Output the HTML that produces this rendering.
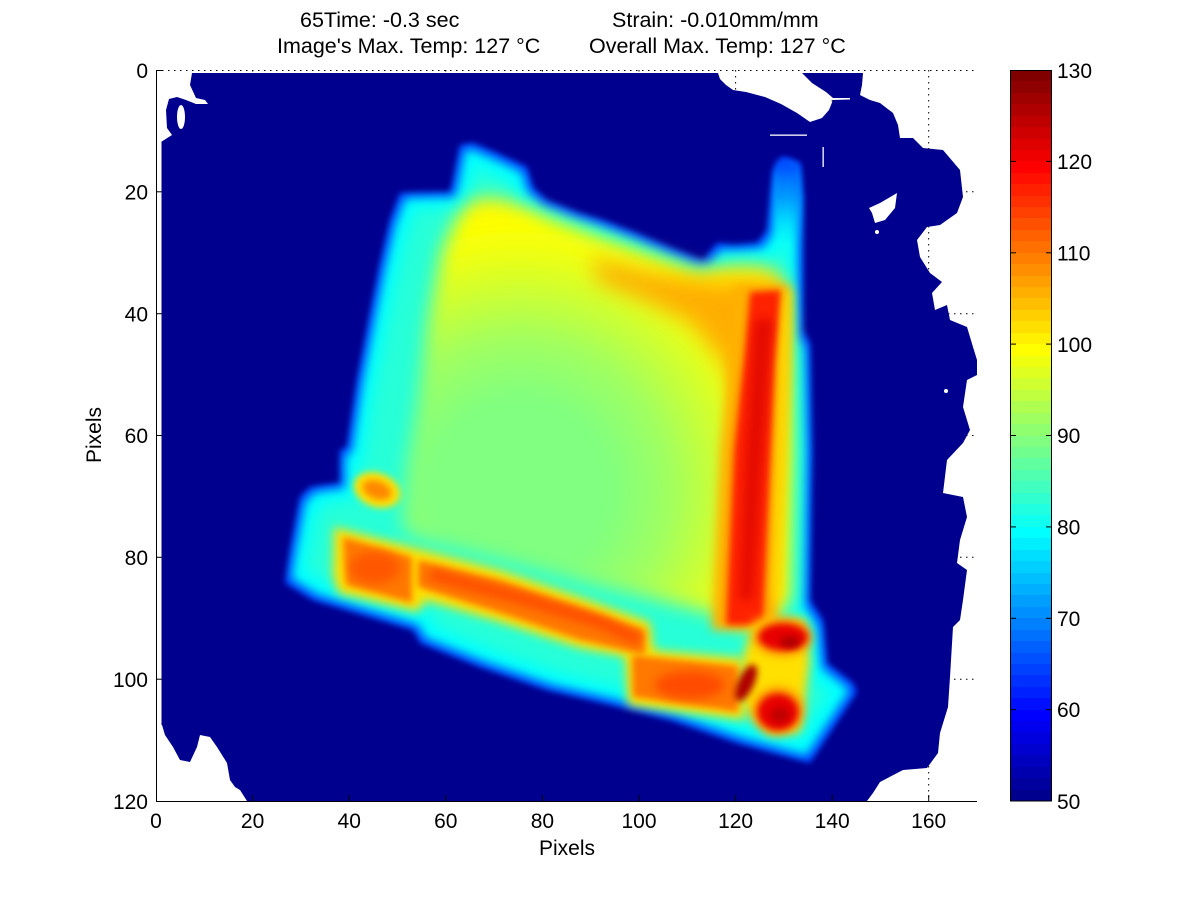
<!DOCTYPE html>
<html><head><meta charset="utf-8"><style>
html,body{margin:0;padding:0;background:#fff;}
svg{display:block;}
text{font-family:"Liberation Sans",Arial,sans-serif;fill:#000;}
</style></head><body>
<svg width="1200" height="900" viewBox="0 0 1200 900" xmlns="http://www.w3.org/2000/svg">
<defs>
 <filter id="b1" x="-50%" y="-50%" width="200%" height="200%"><feGaussianBlur stdDeviation="3"/></filter>
 <filter id="b2" x="-50%" y="-50%" width="200%" height="200%"><feMorphology operator="erode" radius="5"/><feGaussianBlur stdDeviation="5"/></filter>
 <filter id="b2b" x="-50%" y="-50%" width="200%" height="200%"><feMorphology operator="erode" radius="16"/><feGaussianBlur stdDeviation="7"/></filter>
 <filter id="b3" x="-50%" y="-50%" width="200%" height="200%"><feGaussianBlur stdDeviation="9"/></filter>
 <filter id="b6" x="-50%" y="-50%" width="200%" height="200%"><feGaussianBlur stdDeviation="11"/></filter>
 <filter id="b4" x="-50%" y="-50%" width="200%" height="200%"><feGaussianBlur stdDeviation="5"/></filter>
 <filter id="b5" x="-50%" y="-50%" width="200%" height="200%"><feGaussianBlur stdDeviation="3.5"/></filter>
 <radialGradient id="gIn" gradientUnits="userSpaceOnUse" cx="520" cy="490" r="300">
  <stop offset="0" stop-color="#80FF80"/>
  <stop offset="0.3" stop-color="#80FF80"/>
  <stop offset="0.5" stop-color="#A0FF60"/>
  <stop offset="0.66" stop-color="#CCFF33"/>
  <stop offset="0.8" stop-color="#F0FF10"/>
  <stop offset="0.9" stop-color="#FFFF00"/>
  <stop offset="1" stop-color="#FFF000"/>
 </radialGradient>
 <linearGradient id="gSpike" x1="0" y1="0" x2="0" y2="1">
  <stop offset="0" stop-color="#0040FF" stop-opacity="1"/>
  <stop offset="0.5" stop-color="#0090FF" stop-opacity="0.8"/>
  <stop offset="1" stop-color="#00D0FF" stop-opacity="0"/>
 </linearGradient>
 <mask id="nan" maskUnits="userSpaceOnUse" x="0" y="0" width="1200" height="900">
  <rect x="0" y="0" width="1200" height="900" fill="#fff"/>
  <path fill="#000" d="M161,73 L192,73 L190,85 L196,98 L205,100 L208,104 L196,104 L186,100 L177,97 L169,99 L166,110 L167,128 L172,135 L161,142 Z
  M718,73 L802,73 L812,83 L826,92 L833,98 L850,98 L850,99.5 L833,100 L829,110 L822,118 L810,122 L797,113 L781,104 L765,97 L746,92 L733,90 L726,85 L720,79 Z
  M863,73 L862,85 L860,95 L870,100 L880,103 L893,113 L898,125 L900,138 L913,138 L923,148 L943,150 L960,170 L963,197 L957,213 L940,225 L927,227 L917,240 L920,257 L930,273 L942,282 L932,293 L935,310 L947,305 L950,320 L967,327 L973,347 L977,360 L977,375 L967,380 L963,407 L970,430 L963,443 L947,460 L943,493 L963,497 L967,517 L960,540 L957,563 L967,570 L963,600 L960,620 L953,627 L950,677 L948,707 L940,733 L938,753 L927,768 L903,770 L880,782 L873,793 L867,801 L980,801 L980,73 Z
  M161,725 L162,725 L165,735 L173,747 L180,760 L190,762 L197,747 L200,735 L210,737 L217,747 L227,763 L230,780 L235,787 L240,790 L247,801 L161,801 Z
  M897,193 L895,208 L885,220 L875,223 L872,213 L869,208 L880,203 Z"/>
  <ellipse cx="181" cy="117" rx="4" ry="12" fill="#000"/>
  <circle cx="877" cy="232" r="2" fill="#000"/>
  <circle cx="946" cy="391" r="2" fill="#000"/>
  <rect x="770" y="134.5" width="37" height="1.3" fill="#000"/>
  <rect x="822.5" y="147" width="1.3" height="20" fill="#000"/>
 </mask>
</defs>

<!-- grid (dotted) -->
<g stroke="#000" stroke-width="1" stroke-dasharray="1.5,4.5" fill="none">
 <line x1="156" y1="70.5" x2="977" y2="70.5"/>
 <line x1="156" y1="191.8" x2="977" y2="191.8"/>
 <line x1="156" y1="313.7" x2="977" y2="313.7"/>
 <line x1="156" y1="435.5" x2="977" y2="435.5"/>
 <line x1="156" y1="557.3" x2="977" y2="557.3"/>
 <line x1="156" y1="679.2" x2="977" y2="679.2"/>
 <line x1="252.6" y1="70" x2="252.6" y2="801"/>
 <line x1="349.2" y1="70" x2="349.2" y2="801"/>
 <line x1="445.8" y1="70" x2="445.8" y2="801"/>
 <line x1="542.4" y1="70" x2="542.4" y2="801"/>
 <line x1="639" y1="70" x2="639" y2="801"/>
 <line x1="735.6" y1="70" x2="735.6" y2="801"/>
 <line x1="832.2" y1="70" x2="832.2" y2="801"/>
 <line x1="928.7" y1="70" x2="928.7" y2="801"/>
</g>

<!-- image -->
<g mask="url(#nan)">
 <rect x="161.5" y="73" width="815.5" height="728" fill="#00008F"/>
 <g>
  <polygon filter="url(#b1)" fill="#0040FF" points="400,193 450,192 453,180 460,145 473,143 497,153 527,167 533,187 547,200 580,213 603,220 637,233 670,247 703,260 717,243 733,245 757,243 767,230 773,170 783,157 800,163 803,197 803,330 810,343 812,450 810,600 823,620 827,663 853,683 857,692 810,763 737,743 670,720 603,703 547,690 480,667 420,643 413,630 380,620 313,600 285,583 290,550 300,497 310,487 340,483 340,450 347,447 357,380 370,313 380,263 390,220"/>
  <polygon filter="url(#b2)" fill="#00FFFF" points="400,193 450,192 453,180 460,145 473,143 497,153 527,167 533,187 547,200 580,213 603,220 637,233 670,247 703,260 717,243 733,245 757,243 767,230 773,170 783,157 800,163 803,197 803,330 810,343 812,450 810,600 823,620 827,663 853,683 857,692 810,763 737,743 670,720 603,703 547,690 480,667 420,643 413,630 380,620 313,600 285,583 290,550 300,497 310,487 340,483 340,450 347,447 357,380 370,313 380,263 390,220"/>
  <polygon filter="url(#b2b)" fill="#40FFBF" opacity="0.6" points="400,193 450,192 453,180 460,145 473,143 497,153 527,167 533,187 547,200 580,213 603,220 637,233 670,247 703,260 717,243 733,245 757,243 767,230 773,170 783,157 800,163 803,197 803,330 810,343 812,450 810,600 823,620 827,663 853,683 857,692 810,763 737,743 670,720 603,703 547,690 480,667 420,643 413,630 380,620 313,600 285,583 290,550 300,497 310,487 340,483 340,450 347,447 357,380 370,313 380,263 390,220"/>
  <polygon filter="url(#b5)" fill="url(#gSpike)" points="776,162 783,158 799,164 801,200 800,245 779,245 775,200"/>
  <polygon filter="url(#b3)" fill="url(#gIn)" points="458,215 475,198 500,198 530,208 552,218 600,236 640,250 700,272 720,266 760,266 782,276 790,330 792,450 790,600 770,622 745,628 720,615 650,598 580,582 500,560 420,540 402,528 406,470 418,400 428,320 442,250"/>
  <polygon filter="url(#b6)" fill="#FFA000" opacity="0.85" points="590,258 660,274 720,282 778,284 780,320 760,335 742,400 722,360 690,322 640,298 600,282"/>
  <polygon filter="url(#b4)" fill="#FFB000" points="735,285 790,285 788,360 776,630 712,630 720,450 730,350"/>
  <polygon filter="url(#b4)" fill="#FFE000" opacity="0.7" points="778,290 792,290 790,360 782,600 772,600 776,360"/>
  <polygon filter="url(#b5)" fill="#FF2000" points="750,292 781,290 775,360 763,625 726,625 734,450 745,350"/>
  <polygon filter="url(#b4)" fill="#D80000" opacity="0.7" points="755,320 772,318 765,420 752,600 740,600 746,450"/>
  <!-- bottom bars -->
  <polygon filter="url(#b4)" fill="#FFE000" points="334,527 415,548 500,570 580,597 650,622 655,662 580,648 500,622 425,600 418,612 338,593 333,575"/>
  <polygon filter="url(#b4)" fill="#FFE000" points="625,648 742,658 745,720 628,705"/>
  <polygon filter="url(#b4)" fill="#FFE000" points="755,620 805,618 810,660 805,700 800,732 770,735 752,718 740,700 742,660"/>
  <polygon filter="url(#b5)" fill="#FF7800" points="343,537 412,557 412,603 346,585"/>
  <polygon filter="url(#b5)" fill="#FF7800" points="418,560 500,580 580,607 645,630 645,655 580,640 500,613 418,587"/>
  <polygon filter="url(#b5)" fill="#FF7800" points="632,655 738,666 738,712 633,697"/>
  <ellipse filter="url(#b4)" cx="783" cy="637" rx="29" ry="18" fill="#FF8000"/>
  <ellipse filter="url(#b4)" cx="778" cy="711" rx="25" ry="23" fill="#FF8000"/>
  <polyline filter="url(#b4)" fill="none" stroke="#FF4000" stroke-width="12" opacity="0.8" points="430,574 520,598 600,622 640,640"/>
  <ellipse filter="url(#b4)" cx="375" cy="568" rx="25" ry="16" fill="#FF5000" opacity="0.8"/>
  <ellipse filter="url(#b4)" cx="690" cy="685" rx="35" ry="14" fill="#FF4000" opacity="0.8"/>
  <ellipse filter="url(#b5)" cx="783" cy="637" rx="24" ry="13" fill="#E80000"/>
  <ellipse filter="url(#b5)" cx="790" cy="642" rx="10" ry="6" fill="#B00000"/>
  <ellipse filter="url(#b5)" cx="778" cy="712" rx="20" ry="18" fill="#E80000"/>
  <ellipse filter="url(#b5)" cx="780" cy="715" rx="9" ry="8" fill="#C00000"/>
  <ellipse filter="url(#b5)" cx="746" cy="683" rx="8" ry="20" transform="rotate(25 746 683)" fill="#B00000"/>
  <ellipse filter="url(#b5)" cx="377" cy="490" rx="24" ry="17" transform="rotate(20 377 490)" fill="#FFE000"/>
  <ellipse filter="url(#b5)" cx="377" cy="490" rx="15" ry="9" transform="rotate(20 377 490)" fill="#FF8800"/>
 </g>
</g>

<!-- axes -->
<g stroke="#000" stroke-width="1" fill="none">
 <line x1="156.5" y1="70" x2="156.5" y2="801.5"/>
 <line x1="156" y1="801.5" x2="977" y2="801.5"/>
 <line x1="156" y1="70.5" x2="162" y2="70.5"/>
 <line x1="156" y1="191.8" x2="162" y2="191.8"/>
 <line x1="156" y1="313.7" x2="162" y2="313.7"/>
 <line x1="156" y1="435.5" x2="162" y2="435.5"/>
 <line x1="156" y1="557.3" x2="162" y2="557.3"/>
 <line x1="156" y1="679.2" x2="162" y2="679.2"/>
 <line x1="252.6" y1="801" x2="252.6" y2="795"/>
 <line x1="349.2" y1="801" x2="349.2" y2="795"/>
 <line x1="445.8" y1="801" x2="445.8" y2="795"/>
 <line x1="542.4" y1="801" x2="542.4" y2="795"/>
 <line x1="639" y1="801" x2="639" y2="795"/>
 <line x1="735.6" y1="801" x2="735.6" y2="795"/>
 <line x1="832.2" y1="801" x2="832.2" y2="795"/>
 <line x1="928.7" y1="801" x2="928.7" y2="795"/>
</g>

<!-- tick labels -->
<g font-size="21" text-anchor="middle">
 <text x="156" y="828">0</text>
 <text x="252.6" y="828">20</text>
 <text x="349.2" y="828">40</text>
 <text x="445.8" y="828">60</text>
 <text x="542.4" y="828">80</text>
 <text x="639" y="828">100</text>
 <text x="735.6" y="828">120</text>
 <text x="832.2" y="828">140</text>
 <text x="928.7" y="828">160</text>
</g>
<g font-size="21" text-anchor="end">
 <text x="148" y="78">0</text>
 <text x="148" y="199.5">20</text>
 <text x="148" y="321.5">40</text>
 <text x="148" y="443">60</text>
 <text x="148" y="565">80</text>
 <text x="148" y="687">100</text>
 <text x="148" y="809">120</text>
</g>
<text x="567" y="855" font-size="21" text-anchor="middle">Pixels</text>
<text transform="translate(101,435) rotate(-90)" font-size="21" text-anchor="middle">Pixels</text>

<!-- title -->
<g font-size="21.5">
 <text x="300" y="27">65Time: -0.3 sec</text>
 <text x="612" y="27">Strain: -0.010mm/mm</text>
 <text x="277" y="53">Image's Max. Temp: 127 °C</text>
 <text x="589" y="53">Overall Max. Temp: 127 °C</text>
</g>

<!-- colorbar -->
<g>
<rect x="1010" y="70" width="42" height="12" fill="#800000"/>
<rect x="1010" y="81" width="42" height="12" fill="#8F0000"/>
<rect x="1010" y="93" width="42" height="12" fill="#9F0000"/>
<rect x="1010" y="104" width="42" height="12" fill="#AF0000"/>
<rect x="1010" y="116" width="42" height="12" fill="#BF0000"/>
<rect x="1010" y="127" width="42" height="12" fill="#CF0000"/>
<rect x="1010" y="139" width="42" height="12" fill="#DF0000"/>
<rect x="1010" y="150" width="42" height="12" fill="#EF0000"/>
<rect x="1010" y="161" width="42" height="12" fill="#FF0000"/>
<rect x="1010" y="173" width="42" height="12" fill="#FF1000"/>
<rect x="1010" y="184" width="42" height="12" fill="#FF2000"/>
<rect x="1010" y="196" width="42" height="12" fill="#FF3000"/>
<rect x="1010" y="207" width="42" height="12" fill="#FF4000"/>
<rect x="1010" y="218" width="42" height="12" fill="#FF5000"/>
<rect x="1010" y="230" width="42" height="12" fill="#FF6000"/>
<rect x="1010" y="241" width="42" height="12" fill="#FF7000"/>
<rect x="1010" y="253" width="42" height="12" fill="#FF8000"/>
<rect x="1010" y="264" width="42" height="12" fill="#FF8F00"/>
<rect x="1010" y="276" width="42" height="12" fill="#FF9F00"/>
<rect x="1010" y="287" width="42" height="12" fill="#FFAF00"/>
<rect x="1010" y="298" width="42" height="12" fill="#FFBF00"/>
<rect x="1010" y="310" width="42" height="12" fill="#FFCF00"/>
<rect x="1010" y="321" width="42" height="12" fill="#FFDF00"/>
<rect x="1010" y="333" width="42" height="12" fill="#FFEF00"/>
<rect x="1010" y="344" width="42" height="12" fill="#FFFF00"/>
<rect x="1010" y="356" width="42" height="12" fill="#EFFF10"/>
<rect x="1010" y="367" width="42" height="12" fill="#DFFF20"/>
<rect x="1010" y="378" width="42" height="12" fill="#CFFF30"/>
<rect x="1010" y="390" width="42" height="12" fill="#BFFF40"/>
<rect x="1010" y="401" width="42" height="12" fill="#AFFF50"/>
<rect x="1010" y="413" width="42" height="12" fill="#9FFF60"/>
<rect x="1010" y="424" width="42" height="12" fill="#8FFF70"/>
<rect x="1010" y="436" width="42" height="12" fill="#80FF80"/>
<rect x="1010" y="447" width="42" height="12" fill="#70FF8F"/>
<rect x="1010" y="458" width="42" height="12" fill="#60FF9F"/>
<rect x="1010" y="470" width="42" height="12" fill="#50FFAF"/>
<rect x="1010" y="481" width="42" height="12" fill="#40FFBF"/>
<rect x="1010" y="493" width="42" height="12" fill="#30FFCF"/>
<rect x="1010" y="504" width="42" height="12" fill="#20FFDF"/>
<rect x="1010" y="515" width="42" height="12" fill="#10FFEF"/>
<rect x="1010" y="527" width="42" height="12" fill="#00FFFF"/>
<rect x="1010" y="538" width="42" height="12" fill="#00EFFF"/>
<rect x="1010" y="550" width="42" height="12" fill="#00DFFF"/>
<rect x="1010" y="561" width="42" height="12" fill="#00CFFF"/>
<rect x="1010" y="573" width="42" height="12" fill="#00BFFF"/>
<rect x="1010" y="584" width="42" height="12" fill="#00AFFF"/>
<rect x="1010" y="595" width="42" height="12" fill="#009FFF"/>
<rect x="1010" y="607" width="42" height="12" fill="#008FFF"/>
<rect x="1010" y="618" width="42" height="12" fill="#0080FF"/>
<rect x="1010" y="630" width="42" height="12" fill="#0070FF"/>
<rect x="1010" y="641" width="42" height="12" fill="#0060FF"/>
<rect x="1010" y="653" width="42" height="12" fill="#0050FF"/>
<rect x="1010" y="664" width="42" height="12" fill="#0040FF"/>
<rect x="1010" y="675" width="42" height="12" fill="#0030FF"/>
<rect x="1010" y="687" width="42" height="12" fill="#0020FF"/>
<rect x="1010" y="698" width="42" height="12" fill="#0010FF"/>
<rect x="1010" y="710" width="42" height="12" fill="#0000FF"/>
<rect x="1010" y="721" width="42" height="12" fill="#0000EF"/>
<rect x="1010" y="732" width="42" height="12" fill="#0000DF"/>
<rect x="1010" y="744" width="42" height="12" fill="#0000CF"/>
<rect x="1010" y="755" width="42" height="12" fill="#0000BF"/>
<rect x="1010" y="767" width="42" height="12" fill="#0000AF"/>
<rect x="1010" y="778" width="42" height="12" fill="#00009F"/>
<rect x="1010" y="790" width="42" height="11" fill="#00008F"/>
<rect x="1010.5" y="70.5" width="41" height="730.5" fill="none" stroke="#000" stroke-width="1"/>
<g stroke="#000" stroke-width="1">
 <line x1="1010" y1="161.4" x2="1016" y2="161.4"/><line x1="1046" y1="161.4" x2="1052" y2="161.4"/>
 <line x1="1010" y1="252.8" x2="1016" y2="252.8"/><line x1="1046" y1="252.8" x2="1052" y2="252.8"/>
 <line x1="1010" y1="344.1" x2="1016" y2="344.1"/><line x1="1046" y1="344.1" x2="1052" y2="344.1"/>
 <line x1="1010" y1="435.5" x2="1016" y2="435.5"/><line x1="1046" y1="435.5" x2="1052" y2="435.5"/>
 <line x1="1010" y1="526.9" x2="1016" y2="526.9"/><line x1="1046" y1="526.9" x2="1052" y2="526.9"/>
 <line x1="1010" y1="618.3" x2="1016" y2="618.3"/><line x1="1046" y1="618.3" x2="1052" y2="618.3"/>
 <line x1="1010" y1="709.6" x2="1016" y2="709.6"/><line x1="1046" y1="709.6" x2="1052" y2="709.6"/>
</g>
<g font-size="21">
 <text x="1057" y="78">130</text>
 <text x="1057" y="169">120</text>
 <text x="1057" y="260.5">110</text>
 <text x="1057" y="352">100</text>
 <text x="1057" y="443">90</text>
 <text x="1057" y="534.5">80</text>
 <text x="1057" y="626">70</text>
 <text x="1057" y="717">60</text>
 <text x="1057" y="809">50</text>
</g>
</g>
</svg>
</body></html>
